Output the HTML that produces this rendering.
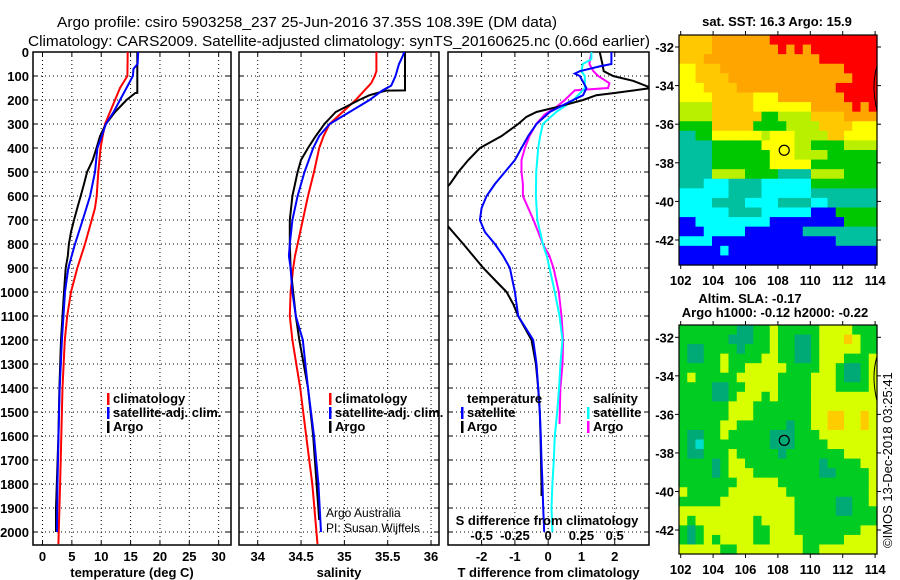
<!DOCTYPE html>
<html><head><meta charset="utf-8"><style>
html,body{margin:0;padding:0;background:#fff;}
svg{display:block;font-family:"Liberation Sans",sans-serif;}
.b{font-weight:bold;font-size:13px;}
</style></head><body>
<svg id="s" width="900" height="580" viewBox="0 0 900 580">
<text x="307" y="27" text-anchor="middle" font-size="15" textLength="500" lengthAdjust="spacingAndGlyphs">Argo profile: csiro 5903258_237 25-Jun-2016 37.35S 108.39E (DM data)</text>
<text x="339" y="46" text-anchor="middle" font-size="15" textLength="622" lengthAdjust="spacingAndGlyphs">Climatology: CARS2009. Satellite-adjusted climatology: synTS_20160625.nc (0.66d earlier)</text>
<g id="g"></g>
</svg>
<script>
// ---- Temperature panel data (depth m, deg C) ----
const tArgoD=[0,170,171,200,250,300,350,400,450,500,550,600,650,700,750,800,850,900,1000,1100,1200,1400,1600,1750,1900,2000];
const tArgoV=[16.15,16.15,15.8,14.3,12.35,10.8,9.8,9.2,8.55,7.6,7.07,6.5,5.93,5.37,4.86,4.5,4.3,3.95,3.66,3.4,3.15,2.87,2.7,2.5,2.3,2.3];
const tClimD=[0,100,150,200,250,300,350,400,500,600,650,700,800,900,1000,1100,1200,1400,1800,2050];
const tClimV=[14.5,14.45,13.2,12.35,11.5,10.65,10.25,9.9,9.5,9.23,8.94,8.38,7.24,5.93,4.86,4.2,3.8,3.4,3.0,2.7];
const tSatD=[0,50,70,100,150,200,250,300,350,400,500,600,700,800,900,1000,1200,1400,1600,1800,2000];
const tSatV=[16.3,16.2,15.5,15.4,14.3,13.2,12.1,10.8,10.1,9.34,8.94,8.1,6.85,5.54,4.4,3.83,3.3,2.93,2.73,2.55,2.47];
// ---- Salinity panel data ----
const sArgoD=[0,160,161,180,200,250,300,350,400,450,500,600,700,800,900,1000,1100,1200,1400,1600,1800,1950];
const sArgoV=[35.70,35.70,35.48,35.29,35.17,34.9,34.77,34.67,34.58,34.5,34.46,34.40,34.37,34.37,34.38,34.41,34.44,34.48,34.58,34.64,34.68,34.71];
const sClimD=[0,80,100,130,200,250,300,350,400,500,600,700,800,850,900,1000,1100,1200,1400,1600,1800,2050];
const sClimV=[35.37,35.37,35.35,35.31,35.13,34.98,34.83,34.76,34.71,34.65,34.58,34.52,34.46,34.43,34.41,34.38,34.37,34.40,34.49,34.56,34.63,34.69];
const sSatD=[0,20,50,100,140,160,200,250,300,350,400,500,600,700,800,850,900,1000,1100,1200,1400,1600,1800,2000];
const sSatV=[35.69,35.67,35.63,35.59,35.54,35.44,35.29,35.06,34.83,34.71,34.64,34.54,34.46,34.40,34.37,34.36,34.38,34.40,34.44,34.52,34.58,34.65,34.70,34.73];
// ---- Difference panel data ----
const dTArgoD=[0,50,80,100,120,150,170,180,200,230,250,270,300,350,400,450,500,550,600,650,728,800,850,900,950,1000,1050,1100,1150,1200,1300,1400,1500,1600,1800,1850];
const dTArgoV=[1.55,1.63,1.67,1.95,2.55,3.1,2.05,1.45,1.05,0.25,-0.35,-0.65,-0.9,-1.4,-2.05,-2.4,-2.7,-2.95,-3.3,-3.4,-3.0,-2.55,-2.25,-1.95,-1.6,-1.25,-1.05,-0.9,-0.7,-0.5,-0.37,-0.3,-0.25,-0.23,-0.2,-0.2];
const dTSatD=[0,50,60,80,90,100,150,180,200,250,300,350,400,450,500,550,600,650,700,750,800,850,900,1000,1100,1200,1300,1400,1500,1600,1700,1800,1900,2000];
const dTSatV=[1.9,1.9,1.55,0.95,0.8,0.95,1.15,1.05,0.75,0.05,-0.35,-0.6,-0.8,-1.0,-1.3,-1.6,-1.85,-2.0,-2.05,-1.9,-1.6,-1.35,-1.15,-1.0,-0.9,-0.45,-0.35,-0.3,-0.25,-0.22,-0.2,-0.17,-0.15,-0.12];
// salinity differences (psu)
const dSArgoD=[0,50,80,100,130,150,160,200,230,260,300,350,400,450,500,550,600,650,700,750,800,850,900,950,1000,1100,1200,1300,1400,1550];
const dSArgoV=[0.325,0.31,0.34,0.375,0.46,0.45,0.2,0.125,0.06,-0.025,-0.09,-0.14,-0.175,-0.2,-0.2,-0.19,-0.19,-0.15,-0.11,-0.075,-0.04,0.01,0.04,0.06,0.08,0.1,0.112,0.108,0.092,0.085];
const dSSatD=[0,30,50,80,100,150,200,250,300,350,400,500,600,700,750,800,850,900,1000,1100,1200,1300,1400,1500,1600,1700,1800,1900,2000];
const dSSatV=[0.325,0.325,0.26,0.25,0.275,0.275,0.19,0.06,-0.04,-0.06,-0.075,-0.09,-0.092,-0.082,-0.06,-0.04,-0.01,0.01,0.05,0.085,0.108,0.092,0.082,0.068,0.05,0.042,0.032,0.025,0.032];
const depthTicks=[0,100,200,300,400,500,600,700,800,900,1000,1100,1200,1300,1400,1500,1600,1700,1800,1900,2000];
const tTicks=[0,5,10,15,20,25,30];
const sTicks=[34,34.5,35,35.5,36];
const sTickLabels=["34","34.5","35","35.5","36"];
const dTicks=[-2,-1,0,1,2];
const dSTicks=[-0.5,-0.25,0,0.25,0.5];
const dSTickLabels=["-0.5","-0.25","0","0.25","0.5"];
// ---- Map grids ----
const lonTicks=[102,104,106,108,110,112,114];
const latTicks=[-32,-34,-36,-38,-40,-42];
const sstRows=[
"ooooOOOOOOORRRRRRRRRRRRR","ooooOOOOOOOORORORRRRRRRR","oooOOOOOOOOOOOOOORRRRRRR","YYoooOOOOOOOOOOOOOOORRRR",
"YYooooOOOOOOOOOOOOOOORRR","YYYooooOOOOOOOOOOOORRRRR","YYYYoooooYYYOOOOOOOORRRR","yyyyoooooYYYYYYYOOOOOROR",
"yyyyooooooGGyyyyooooOOOO","GGGGoooooGGGGyyyyooooYYY","TTGGYYYYYYyYYYyyyyooYYYY","TTTTGGGGGGYYYYyyGGGGyyyy",
"TTTTGGGGGGGYYYyyyyGGGGGG","TTTTGGGGGGGYYYYYGGGGGGGG","TTTTyyyyGGGGTTTTyyyyGGGG","TTTCCCTTTTCCCCCCGGGGGGGG",
"CCCCCCTTTTCCCCCCTTTTTTTT","CCCCTTTTCCCCTTTTCCTTTTTT","CCCCCCTTTTCCCCCCBBBGGGGG","BBCCCCCCCCCBBBBBBBBBGGGG",
"BBBCCCCCBBBBBBBTTTTTTTTT","CCCCBBBBBBBBBBBBBBBTTTTT","BBBBBCBBBBBBBBBBBBBBBBBB","BBBBBBBBBBBBBBBBBBBBBBBB"];
const slaRows=[
"GGGGGGGTTGGYGGGGGYYYYGGG","GGGGGGTTTGGYGGTTGYYYOYGG","GTTGGGGTGGGYGGTTGYYYYYGG","GTTGGYGGGGYYGGTTGYYYGGGY",
"GGGGGYGGYYYYYGGGGYYGTTGY","GYGGGGGYYYYYGGGGYYYGTTGY","GGGGTTGGYYYYGGGGYYYGGGGY","GGGGTTGYYYGYGGGGYYYYYYYY",
"GGGGGGYYYGGGGGGGYYYYYYYY","GGGGGGYYYGGGGGGGYYOOYYOY","GGGGGYYGGGGGGTGGYYOOYYOY","GTTGGYGGGGGTTTGGGYYYYYYY",
"GTCGGGGGGGGTTTGGGGYYYYYY","GTTGGGYGGGGGTGGGGGGGYYYY","GGGGTGYYGGGGGGGGGTGGGGYY","GGGGTGYYYGGGGGGGGTTGGGGY",
"GGGGGGGYYYYYGGGGGGGGGGGY","YGGGGGYYYYYYYGGGGGGGGGGY","GGGGGYYYYYYYYYGGGGGTTGGY","YYYYYYYYYYYYYYGGGGGTTGGG",
"YGYYYYYYYGYYYYGGGGGGGGGG","GTGYYYYYYGGYYYGGGGGGGGYY","GTGYGYYYYGGYYYYGGGGGYYYY","YYYYYGGYYYYYYYYGGYYYYYYY"];
const argoLon=108.39, argoLat=-37.35;

const NS='http://www.w3.org/2000/svg';
const G=document.getElementById('g');
function mk(tag,attrs,parent){const e=document.createElementNS(NS,tag);for(const k in attrs)e.setAttribute(k,attrs[k]);(parent||G).appendChild(e);return e;}
function txt(x,y,s,attrs,parent){const e=mk('text',Object.assign({x:x,y:y},attrs||{}),parent);e.textContent=s;return e;}
const Y0=52,Y1=545,YS=0.24;
function yD(d){return Y0+d*YS;}
function makeX(x0,x1,vmin,vmax){return v=>x0+(v-vmin)/(vmax-vmin)*(x1-x0);}
const panels=[
 {name:'temperature',x0:33,x1:231,min:-1.62,max:32.1},
 {name:'salinity',x0:239,x1:439,min:33.784,max:36.092},
 {name:'difference',x0:448,x1:649,min:-3.01,max:3.03}];
panels.forEach(p=>p.X=makeX(p.x0,p.x1,p.min,p.max));

function drawPanel(p,ticks,labels,title){
  const cp=mk('clipPath',{id:'c'+p.name});
  mk('rect',{x:p.x0,y:Y0,width:p.x1-p.x0,height:Y1-Y0},cp);
  const grp=mk('g',{});
  
  
  ticks.forEach((t,i)=>{
    const x=p.X(t);
    const l=mk('line',{x1:x,y1:Y0,x2:x,y2:Y1,stroke:'#000','stroke-width':1,'stroke-dasharray':'1,3'},grp);
    
    
    mk('line',{x1:x,y1:Y1,x2:x,y2:Y1-4,stroke:'#000'},grp);
    mk('line',{x1:x,y1:Y0,x2:x,y2:Y0+4,stroke:'#000'},grp);
    if(labels){const tl=txt(x,561,labels[i],{'text-anchor':'middle',class:'b'},grp);
      
      }
  });
  depthTicks.forEach(d=>{
    const y=yD(d);
    const l=mk('line',{x1:p.x0,y1:y,x2:p.x1,y2:y,stroke:'#000','stroke-width':1,'stroke-dasharray':'1,3'},grp);
    
    
    mk('line',{x1:p.x0,y1:y,x2:p.x0+5,y2:y,stroke:'#000'},grp);
    mk('line',{x1:p.x1,y1:y,x2:p.x1-5,y2:y,stroke:'#000'},grp);
  });
  const fr=mk('rect',{x:p.x0,y:Y0,width:p.x1-p.x0,height:Y1-Y0,fill:'none',stroke:'#000','stroke-width':1.5},grp);
  
  
  const at=txt((p.x0+p.x1)/2,577,title,{'text-anchor':'middle',class:'b'},grp);
  
  
  return grp;
}
function series(p,D,V,color,name,scale){
  const pts=D.map((d,i)=>p.X(V[i]*(scale||1)).toFixed(1)+','+yD(d).toFixed(1)).join(' ');
  const e=mk('polyline',{points:pts,fill:'none',stroke:color,'stroke-width':2,'clip-path':'url(#c'+p.name+')'});
  
  
}
drawPanel(panels[0],tTicks,tTicks.map(String),'temperature (deg C)');
drawPanel(panels[1],sTicks,sTickLabels,'salinity');
drawPanel(panels[2],dTicks,dTicks.map(String),'T difference from climatology');
depthTicks.forEach(d=>{const t=txt(29,yD(d)+5,String(d),{'text-anchor':'end',class:'b'});
  
  });

series(panels[0],tClimD,tClimV,'#ff0000','temp-climatology-line');
series(panels[0],tArgoD,tArgoV,'#000','temp-argo-line');
series(panels[0],tSatD,tSatV,'#0000ff','temp-satellite-line');
series(panels[1],sClimD,sClimV,'#ff0000','sal-climatology-line');
series(panels[1],sArgoD,sArgoV,'#000','sal-argo-line');
series(panels[1],sSatD,sSatV,'#0000ff','sal-satellite-line');
series(panels[2],dSArgoD,dSArgoV,'#ff00ff','sdiff-argo-line',4);
series(panels[2],dSSatD,dSSatV,'#00ffff','sdiff-satellite-line',4);
series(panels[2],dTArgoD,dTArgoV,'#000','tdiff-argo-line');
series(panels[2],dTSatD,dTSatV,'#0000ff','tdiff-satellite-line');

function legend(x,y,items,name){
  const g=mk('g',{});
  
  
  items.forEach((it,i)=>{
    if(it[1]){mk('rect',{x:x,y:y+i*14-10,width:2.5,height:12,fill:it[1]},g);}
    const t=txt(x+6,y+i*14,it[0],{class:'b','font-size':'12.5'},g);
    
    
  });
}
legend(107,403,[['climatology','#ff0000'],['satellite-adj. clim.','#0000ff'],['Argo','#000']],'temp-legend');
legend(329,403,[['climatology','#ff0000'],['satellite-adj. clim.','#0000ff'],['Argo','#000']],'sal-legend');
legend(461,403,[['temperature',null],['satellite','#0000ff'],['Argo','#000']],'tdiff-legend');
legend(587,403,[['salinity',null],['satellite','#00ffff'],['Argo','#ff00ff']],'sdiff-legend');
let t1=txt(326,517,'Argo Australia',{'font-size':'12'});
let t2=txt(326,532,'PI: Susan Wijffels',{'font-size':'12'});
let t3=txt(547,525,'S difference from climatology',{'text-anchor':'middle',class:'b'});
dSTicks.forEach((s,i)=>{const t=txt(panels[2].X(s*4),540,dSTickLabels[i],{'text-anchor':'middle',class:'b'});
  
  });

// ---- maps ----
const sstCol={R:'#ff0000',O:'#ffa500',o:'#ffc800',Y:'#ffff00',y:'#b8f000',G:'#00c800',T:'#00c0a0',C:'#00ffff',B:'#0000ff'};
const slaCol={G:'#00cc22',T:'#00aa77',C:'#00ddcc',Y:'#d8ff00',O:'#ffcc00'};
function drawMap(rows,cols,mx0,mx1,my0,my1,lat32y,lat42y,name,titles){
  const g=mk('g',{});
  
  
  const lonX=l=>680.7+(l-102)*16.2;
  const latY=l=>lat32y+(-32-l)*(lat42y-lat32y)/10;
  const nr=rows.length,nc=rows[0].length,cw=(mx1-mx0)/nc,ch=(my1-my0)/nr;
  rows.forEach((r,i)=>{for(let j=0;j<nc;j++){
    const c=mk('rect',{x:(mx0+j*cw).toFixed(2),y:(my0+i*ch).toFixed(2),width:(cw+0.6).toFixed(2),height:(ch+0.6).toFixed(2),fill:cols[r[j]]},g);
    
    
  }});
  mk('path',{d:`M${mx1},${latY(-33)} Q${mx1-6},${latY(-34)} ${mx1},${latY(-35.3)}`,fill:'none',stroke:'#000','stroke-width':1},g);
  mk('rect',{x:mx0,y:my0,width:mx1-mx0,height:my1-my0,fill:'none',stroke:'#000','stroke-width':1.2},g);
  const ci=mk('circle',{cx:lonX(argoLon),cy:latY(argoLat),r:5,fill:'none',stroke:'#000','stroke-width':1.2},g);
  
  
  lonTicks.forEach(l=>{const x=lonX(l);
    mk('line',{x1:x,y1:my1,x2:x,y2:my1+4,stroke:'#000'},g);
    mk('line',{x1:x,y1:my0,x2:x,y2:my0-4,stroke:'#000'},g);
    const t=txt(x,my1+20,String(l),{'text-anchor':'middle',class:'b','font-size':'14'},g);
    
    });
  latTicks.forEach(l=>{const y=latY(l);
    mk('line',{x1:mx0,y1:y,x2:mx0-4,y2:y,stroke:'#000'},g);
    mk('line',{x1:mx1,y1:y,x2:mx1+4,y2:y,stroke:'#000'},g);
    const t=txt(674,y+5,String(l),{'text-anchor':'end',class:'b','font-size':'13'},g);
    
    });
  titles.forEach(tt=>{const t=txt(tt[0],tt[1],tt[2],{'text-anchor':'middle',class:'b'},g);
    
    });
}
drawMap(sstRows,sstCol,679,877,35,265,47,240,'sst-map',[[777,26,'sat. SST: 16.3 Argo: 15.9']]);
drawMap(slaRows,slaCol,679,877,325,554,337.3,530,'sla-map',[[750,303,'Altim. SLA: -0.17'],[775,317,'Argo h1000: -0.12 h2000: -0.22']]);
const ts=txt(0,0,'\u00A9IMOS 13-Dec-2018 03:25:41',{transform:'translate(892,548) rotate(-90)','font-size':'13'});


</script>
</body></html>
